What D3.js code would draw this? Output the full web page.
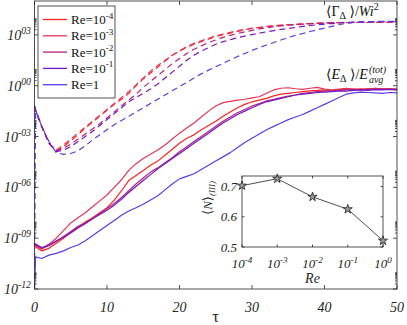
<!DOCTYPE html>
<html>
<head>
<meta charset="utf-8">
<script src="https://cdn.jsdelivr.net/npm/d3@7"></script>
<style>
body{margin:0;background:#fff;}
svg{display:block;}
svg text{font-family:'Liberation Serif','Times New Roman',Times,'DejaVu Serif',serif;}
</style>
</head>
<body>
<div id="chart"></div>
<script>
// time axis (tau), shared by every curve
var tau = [0,0.15,1,2,3,4,5,6,7,8,9,10,11,12,13,14,15,16,17,18,19,20,
    21,22,23,24,25,26,27,28,29,30,31,32,33,34,35,36,37,38,39,40,
    41,42,43,44,45,46,47,48,49,50];

var reNames = ['-4','-3','-2','-1',''];
var reColors = ['#ff2323','#e63358','#b2237c','#7417c4','#5a3ce6'];

// log10 of <E_delta>/E_avg (solid)
var energyRe4 = [-9.45,-9.5,-9.75,-9.6,-9.3,-9.0,-8.65,-8.35,-8.05,-7.8,-7.5,-7.2,
    -6.75,-6.2,-5.6,-5.3,-5.0,-4.7,-4.45,-4.1,-3.75,-3.4,
    -3.1,-2.9,-2.6,-2.35,-2.1,-1.8,-1.55,-1.3,-1.1,-0.95,
    -0.85,-0.75,-0.6,-0.5,-0.45,-0.4,-0.35,-0.3,-0.28,-0.25,
    -0.3,-0.25,-0.2,-0.22,-0.18,-0.2,-0.15,-0.2,-0.18,-0.2];
var energyRe3 = [-9.4,-9.45,-9.65,-9.35,-9.0,-8.55,-8.1,-7.8,-7.5,-7.15,-6.8,-6.45,
    -6.0,-5.55,-5.0,-4.6,-4.3,-4.05,-3.8,-3.5,-3.15,-2.8,
    -2.5,-2.2,-1.85,-1.5,-1.2,-1.0,-0.92,-0.85,-0.8,-0.72,
    -0.65,-0.45,-0.25,-0.15,-0.12,-0.18,-0.22,-0.15,-0.1,-0.2,
    -0.25,-0.2,-0.15,-0.2,-0.25,-0.2,-0.15,-0.22,-0.2,-0.25];
var energyRe2 = [-9.35,-9.4,-9.6,-9.45,-9.2,-8.9,-8.6,-8.3,-8.1,-7.85,-7.55,-7.25,
    -6.95,-6.6,-6.2,-5.8,-5.45,-5.1,-4.85,-4.55,-4.25,-3.9,
    -3.6,-3.3,-3.0,-2.7,-2.4,-2.1,-1.85,-1.6,-1.4,-1.2,
    -1.05,-0.9,-0.8,-0.7,-0.62,-0.55,-0.45,-0.4,-0.35,-0.32,
    -0.3,-0.28,-0.25,-0.22,-0.25,-0.2,-0.22,-0.18,-0.2,-0.22];
var energyRe1 = [-9.3,-9.35,-9.55,-9.4,-9.15,-8.95,-8.7,-8.4,-8.15,-7.85,-7.6,-7.35,
    -7.05,-6.7,-6.3,-5.95,-5.6,-5.25,-4.9,-4.6,-4.3,-4.0,
    -3.7,-3.4,-3.1,-2.8,-2.5,-2.2,-1.95,-1.7,-1.5,-1.3,
    -1.1,-0.95,-0.85,-0.75,-0.65,-0.55,-0.5,-0.45,-0.4,-0.38,
    -0.35,-0.3,-0.32,-0.28,-0.25,-0.27,-0.23,-0.25,-0.22,-0.25];
var energyRe0 = [-12,-10.1,-10.2,-10.0,-9.9,-9.75,-9.55,-9.4,-9.15,-8.85,-8.55,-8.25,
    -7.95,-7.65,-7.4,-7.2,-7.0,-6.75,-6.5,-6.15,-5.8,-5.5,
    -5.35,-5.2,-4.95,-4.7,-4.45,-4.2,-3.95,-3.65,-3.35,-3.1,
    -2.85,-2.6,-2.4,-2.2,-2.0,-1.85,-1.7,-1.5,-1.3,-1.1,
    -0.9,-0.7,-0.5,-0.42,-0.38,-0.4,-0.42,-0.45,-0.4,-0.42];

// log10 of <Gamma_delta>/Wi^2 (dashed)
var gammaRe4 = [-1.2,-1.45,-2.4,-3.4,-3.85,-3.6,-3.25,-2.9,-2.5,-2.15,-1.8,-1.45,
    -1.1,-0.8,-0.45,0.0,0.4,0.75,1.1,1.45,1.8,2.05,
    2.25,2.45,2.6,2.75,2.9,3.0,3.1,3.2,3.3,3.38,
    3.43,3.48,3.52,3.56,3.6,3.62,3.65,3.67,3.69,3.7,
    3.71,3.72,3.72,3.73,3.73,3.73,3.74,3.74,3.74,3.74];
var gammaRe3 = [-1.2,-1.45,-2.4,-3.4,-3.8,-3.5,-3.15,-2.8,-2.45,-2.1,-1.75,-1.4,
    -1.05,-0.7,-0.35,0.05,0.45,0.85,1.2,1.5,1.8,2.05,
    2.3,2.5,2.65,2.8,2.95,3.05,3.15,3.25,3.32,3.4,
    3.45,3.5,3.55,3.58,3.6,3.62,3.64,3.66,3.68,3.7,
    3.71,3.72,3.73,3.73,3.74,3.74,3.75,3.75,3.75,3.76];
var gammaRe2 = [-1.2,-1.45,-2.4,-3.4,-3.85,-3.7,-3.45,-3.15,-2.85,-2.55,-2.25,-1.9,
    -1.55,-1.2,-0.85,-0.5,-0.1,0.25,0.6,0.95,1.3,1.6,
    1.9,2.15,2.35,2.55,2.7,2.85,2.97,3.08,3.18,3.27,
    3.35,3.42,3.48,3.53,3.57,3.6,3.63,3.66,3.68,3.7,
    3.72,3.73,3.74,3.75,3.76,3.76,3.77,3.77,3.78,3.78];
var gammaRe1 = [-1.2,-1.45,-2.4,-3.4,-3.9,-3.8,-3.6,-3.3,-3.0,-2.7,-2.35,-2.0,
    -1.65,-1.3,-0.95,-0.7,-0.45,-0.2,0.1,0.45,0.8,1.15,
    1.5,1.8,2.05,2.25,2.45,2.6,2.72,2.83,2.93,3.02,
    3.1,3.18,3.25,3.32,3.38,3.44,3.5,3.55,3.6,3.64,
    3.67,3.7,3.72,3.74,3.75,3.76,3.77,3.78,3.78,3.79];
var gammaRe0 = [-12,-1.45,-2.4,-3.3,-3.95,-4.05,-4.0,-3.85,-3.55,-3.2,-2.9,-2.6,
    -2.3,-2.05,-1.8,-1.55,-1.3,-1.05,-0.8,-0.55,-0.3,-0.05,
    0.2,0.45,0.7,0.92,1.12,1.32,1.52,1.72,1.9,2.08,
    2.25,2.4,2.55,2.7,2.85,2.97,3.08,3.2,3.3,3.4,
    3.5,3.6,3.68,3.74,3.77,3.78,3.79,3.8,3.8,3.8];

var energySeries = [energyRe4,energyRe3,energyRe2,energyRe1,energyRe0];
var gammaSeries = [gammaRe4,gammaRe3,gammaRe2,gammaRe1,gammaRe0];

var yTickExp = [-12,-9,-6,-3,0,3];
var xTicks = [0,10,20,30,40,50];

// inset: <N>_(III) against Re
var insetRe = [1e-4,1e-3,1e-2,1e-1,1];
var insetN = [0.703,0.726,0.666,0.625,0.521];
var insetYTicks = [0.5,0.6,0.7];

var W = 407, H = 325;
var axisColor = '#262626';

var svg = d3.select('#chart').append('svg')
    .attr('width',W).attr('height',H);

var x = d3.scaleLinear().domain([0,50]).range([34.5,397]);
var y = d3.scaleLog().domain([1e-12,1e5]).range([289,1]);

svg.append('defs').append('clipPath').attr('id','plotclip')
    .append('rect')
    .attr('x',x(0)).attr('y',y(1e5))
    .attr('width',x(50)-x(0)).attr('height',y(1e-12)-y(1e5));

function powText(sel,base,exp,size){
    sel.append('tspan').text(base);
    sel.append('tspan').attr('dy',-size*0.42).attr('font-size',size*0.7+'px').text(exp);
}

// curves
var plot = svg.append('g').attr('clip-path','url(#plotclip)');
function drawCurve(vals,color,dash){
    var line = d3.line()
        .x(function(d,i){return x(tau[i]);})
        .y(function(d){return y(Math.pow(10,d));});
    plot.append('path')
        .datum(vals)
        .attr('d',line)
        .attr('fill','none')
        .attr('stroke',color)
        .attr('stroke-width',1.2)
        .attr('stroke-dasharray',dash?'6,4':null)
        .attr('stroke-linejoin','round');
}
for(var i=0;i<gammaSeries.length;i++){
    drawCurve(gammaSeries[i],reColors[i],true);
}
for(var i=0;i<energySeries.length;i++){
    drawCurve(energySeries[i],reColors[i],false);
}

// box and ticks
svg.append('rect')
    .attr('x',x(0)).attr('y',y(1e5))
    .attr('width',x(50)-x(0)).attr('height',y(1e-12)-y(1e5))
    .attr('fill','none').attr('stroke',axisColor).attr('stroke-width',0.8);

var ticks = svg.append('g').attr('stroke',axisColor).attr('stroke-width',0.8);
xTicks.forEach(function(t){
    ticks.append('line').attr('x1',x(t)).attr('x2',x(t)).attr('y1',y(1e-12)).attr('y2',y(1e-12)-4);
    ticks.append('line').attr('x1',x(t)).attr('x2',x(t)).attr('y1',y(1e5)).attr('y2',y(1e5)+4);
});
yTickExp.forEach(function(e){
    var v = Math.pow(10,e);
    ticks.append('line').attr('x1',x(0)).attr('x2',x(0)+4).attr('y1',y(v)).attr('y2',y(v));
    ticks.append('line').attr('x1',x(50)).attr('x2',x(50)-4).attr('y1',y(v)).attr('y2',y(v));
    for(var m=2;m<10;m++){
        var mv = m*v;
        if(mv>1e5)continue;
        ticks.append('line').attr('x1',x(0)).attr('x2',x(0)+2).attr('y1',y(mv)).attr('y2',y(mv));
        ticks.append('line').attr('x1',x(50)).attr('x2',x(50)-2).attr('y1',y(mv)).attr('y2',y(mv));
    }
});

// tick labels
svg.append('g').selectAll('text')
    .data(xTicks)
    .enter().append('text')
    .text(function(d){return d;})
    .attr('x',function(d){return x(d);})
    .attr('y',312)
    .attr('text-anchor','middle')
    .attr('font-style','italic')
    .attr('font-size','14px')
    .attr('fill',axisColor);

yTickExp.forEach(function(e){
    var s = (e<0?'-':'')+d3.format('02d')(Math.abs(e));
    var t = svg.append('text')
        .attr('x',31).attr('y',y(Math.pow(10,e))+5)
        .attr('text-anchor','end')
        .attr('font-style','italic')
        .attr('font-size','14px')
        .attr('fill',axisColor);
    powText(t,'10',s,14);
});

svg.append('text')
    .text('\u03c4')
    .attr('x',(x(0)+x(50))/2).attr('y',322)
    .attr('text-anchor','middle')
    .attr('font-size','17px')
    .attr('fill',axisColor);

// curve annotations
var g1 = svg.append('text')
    .attr('x',326).attr('y',16)
    .attr('font-size','14px')
    .attr('fill','#111');
g1.append('tspan').text('\u27e8\u0393');
g1.append('tspan').attr('dy',3).attr('font-size','10px').text('\u0394');
g1.append('tspan').attr('dy',-3).text(' \u27e9/');
g1.append('tspan').attr('font-style','italic').text('Wi');
g1.append('tspan').attr('dy',-6).attr('font-size','10px').text('2');

var g2 = svg.append('text')
    .attr('x',326).attr('y',79)
    .attr('font-size','14px')
    .attr('fill','#111');
g2.append('tspan').text('\u27e8');
g2.append('tspan').attr('font-style','italic').text('E');
g2.append('tspan').attr('dy',3).attr('font-size','10px').text('\u0394');
g2.append('tspan').attr('dy',-3).text(' \u27e9/');
g2.append('tspan').attr('font-style','italic').text('E');
var g2end = 326+g2.node().getComputedTextLength()+1;
svg.append('text')
    .attr('x',g2end).attr('y',73)
    .attr('font-size','10px').attr('font-style','italic')
    .attr('fill','#111')
    .text('(tot)');
svg.append('text')
    .attr('x',g2end).attr('y',83)
    .attr('font-size','10px').attr('font-style','italic')
    .attr('fill','#111')
    .text('avg');

// legend
var legend = svg.append('g');
legend.append('rect')
    .attr('x',38).attr('y',6).attr('width',77).attr('height',92)
    .attr('fill','#fff').attr('stroke',axisColor).attr('stroke-width',0.8);
reNames.forEach(function(n,i){
    var ly = 19.5+i*16.3;
    legend.append('line')
        .attr('x1',43).attr('x2',67).attr('y1',ly).attr('y2',ly)
        .attr('stroke',reColors[i]).attr('stroke-width',1.3);
    var t = legend.append('text')
        .attr('x',71).attr('y',ly+4.5)
        .attr('font-size','13px')
        .attr('fill','#111');
    if(n==='')t.text('Re=1');
    else powText(t,'Re=10',n,13);
});

// inset
var ix = d3.scaleLog().domain([1e-4,1]).range([242,383]);
var iy = d3.scaleLinear().domain([0.5,0.735]).range([247,176]);

var inset = svg.append('g');
inset.append('rect')
    .attr('x',ix(1e-4)).attr('y',iy(0.735))
    .attr('width',ix(1)-ix(1e-4)).attr('height',iy(0.5)-iy(0.735))
    .attr('fill','#fff').attr('stroke',axisColor).attr('stroke-width',0.8);

insetRe.forEach(function(r){
    inset.append('line').attr('x1',ix(r)).attr('x2',ix(r)).attr('y1',iy(0.5)).attr('y2',iy(0.5)-2.5)
        .attr('stroke',axisColor).attr('stroke-width',0.8);
    inset.append('line').attr('x1',ix(r)).attr('x2',ix(r)).attr('y1',iy(0.735)).attr('y2',iy(0.735)+2.5)
        .attr('stroke',axisColor).attr('stroke-width',0.8);
    var e = Math.round(Math.log10(r));
    var t = inset.append('text')
        .attr('x',ix(r)).attr('y',268)
        .attr('text-anchor','middle')
        .attr('font-style','italic')
        .attr('font-size','13px')
        .attr('fill',axisColor);
    powText(t,'10',String(e),13);
});
insetYTicks.forEach(function(v){
    inset.append('line').attr('x1',ix(1e-4)).attr('x2',ix(1e-4)+2.5).attr('y1',iy(v)).attr('y2',iy(v))
        .attr('stroke',axisColor).attr('stroke-width',0.8);
    inset.append('line').attr('x1',ix(1)).attr('x2',ix(1)-2.5).attr('y1',iy(v)).attr('y2',iy(v))
        .attr('stroke',axisColor).attr('stroke-width',0.8);
    inset.append('text')
        .text(d3.format('.1f')(v))
        .attr('x',237).attr('y',iy(v)+4.5)
        .attr('text-anchor','end')
        .attr('font-style','italic')
        .attr('font-size','13px')
        .attr('fill',axisColor);
});

var insetLine = d3.line()
    .x(function(d,i){return ix(insetRe[i]);})
    .y(function(d){return iy(d);});
inset.append('path')
    .datum(insetN)
    .attr('d',insetLine)
    .attr('fill','none')
    .attr('stroke','#222')
    .attr('stroke-width',0.8);
inset.selectAll('path.star')
    .data(insetN)
    .enter().append('path')
    .attr('class','star')
    .attr('d',d3.symbol().type(d3.symbolStar).size(26))
    .attr('transform',function(d,i){return 'translate('+ix(insetRe[i])+','+iy(d)+')';})
    .attr('fill','#999')
    .attr('stroke','#222')
    .attr('stroke-width',0.8);

inset.append('text')
    .text('Re')
    .attr('x',(ix(1e-4)+ix(1))/2).attr('y',283)
    .attr('text-anchor','middle')
    .attr('font-style','italic')
    .attr('font-size','14px')
    .attr('fill',axisColor);

var yl = inset.append('text')
    .attr('transform','translate(212,198) rotate(-90)')
    .attr('text-anchor','middle')
    .attr('font-style','italic')
    .attr('font-size','13px')
    .attr('fill',axisColor);
yl.append('tspan').attr('font-style','normal').text('\u27e8');
yl.append('tspan').text('N');
yl.append('tspan').attr('font-style','normal').text('\u27e9');
yl.append('tspan').attr('dy',3).attr('font-size','9px').text('(III)');
</script>
</body>
</html>
